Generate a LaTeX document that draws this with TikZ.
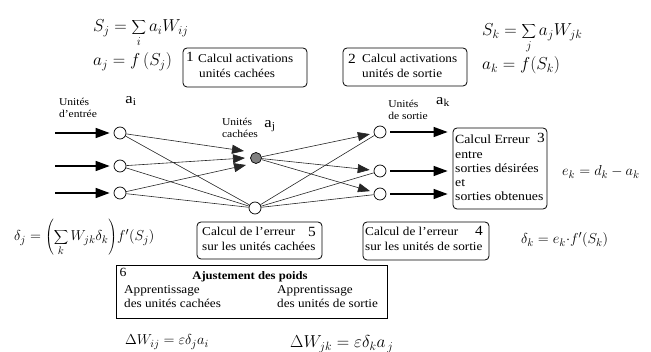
\documentclass[tikz,border=0pt]{standalone}
\usepackage{fontspec}
\setmainfont[FakeStretch=1.1]{Liberation Serif}
\usetikzlibrary{arrows.meta}
\begin{document}
\begin{tikzpicture}[x=1pt,y=-1pt,
  unit/.style={circle,draw,line width=0.7pt,minimum size=12pt,inner sep=0pt,fill=white},
  hid/.style={circle,draw,line width=0.7pt,minimum size=11pt,inner sep=0pt,fill=black!50},
  rbox/.style={draw,rounded corners=4pt,line width=0.8pt},
  sbox/.style={draw,line width=0.9pt},
  btxt/.style={font=\fontsize{12}{14.5}\selectfont,align=left,inner sep=0pt,anchor=north west},
  num/.style={font=\fontsize{14}{14}\selectfont,inner sep=0pt},
  lbl/.style={font=\fontsize{10.5}{12.5}\selectfont,align=left,inner sep=0pt},
  act/.style={font=\fontsize{15}{15}\selectfont,inner sep=0pt},
  eq/.style={font=\fontsize{15}{17}\selectfont,inner sep=0pt,anchor=base west},
  big/.style={line width=1.4pt,-{Triangle[length=14pt,width=10pt]}},
  thin/.style={line width=0.6pt,black!85},
  tarr/.style={line width=0.6pt,black!85,-{Triangle[length=12pt,width=9pt]}}
]
\useasboundingbox (0,0) rectangle (651,352);

% equations
\node[eq,font=\fontsize{18}{20}\selectfont] (eqSj) at (93,32) {$\displaystyle S_j=\sum_i a_iW_{ij}$};
\node[eq,font=\fontsize{18}{20}\selectfont] (eqaj) at (93,66) {$a_j=f\left(S_j\right)$};
\node[eq,font=\fontsize{16.5}{18}\selectfont] (eqSk) at (482,36) {$\displaystyle S_k=\sum_j a_jW_{jk}$};
\node[eq,font=\fontsize{17}{18}\selectfont] (eqak) at (482,70) {$a_k=f(S_k)$};
\node[eq] (eqek) at (562,176) {$e_k=d_k-a_k$};
\node[eq] (eqdj) at (14,241) {$\displaystyle \delta_j=\left(\sum_k W_{jk}\delta_k\right)\!f'\!\left(S_j\right)$};
\node[eq] (eqdk) at (521,244) {$\delta_k=e_k{\cdot}f'\!\left(S_k\right)$};
\node[eq] (eqwij) at (125,345) {$\Delta W_{ij}=\varepsilon\delta_j a_i$};
\node[eq,font=\fontsize{17}{18}\selectfont] (eqwjk) at (290,348) {$\Delta W_{jk}=\varepsilon\delta_k a_{\,j}$};

% box 1
\node[rbox,minimum width=124pt,minimum height=39pt] (b1) at (245,67.5) {};
\node[num] (n1) at (190,57) {1};
\node[btxt] (t1) at (198,54) {Calcul activations\\\hspace*{1pt}unités cachées};
% box 2
\node[rbox,minimum width=124pt,minimum height=38pt] (b2) at (405,67) {};
\node[num] (n2) at (352,59) {2};
\node[btxt] (t2) at (362,54) {Calcul activations\\unités de sortie};

% units
\node[unit] (i1) at (120,133) {};
\node[unit] (i2) at (120,166) {};
\node[unit] (i3) at (120,193) {};
\node[hid] (j) at (256,158) {};
\node[unit] (h) at (255,208) {};
\node[unit] (k1) at (380,132) {};
\node[unit] (k2) at (380,171) {};
\node[unit] (k3) at (380,194) {};

% labels
\node[lbl] (lin) at (78,108) {Unités\\d'entrée};
\node[act] (ai) at (131,101) {a\textsubscript{i}};
\node[lbl] (lhid) at (240,128) {Unités\\cachées};
\node[act] (aj) at (270,126) {a\textsubscript{j}};
\node[lbl] (lout) at (408,110) {Unités\\de sortie};
\node[act] (ak) at (443,102) {a\textsubscript{k}};

% input arrows
\coordinate (s1) at (55,133);
\coordinate (s2) at (55,166);
\coordinate (s3) at (55,193);
\draw[big] (s1) -- ([xshift=-4pt]i1.west);
\draw[big] (s2) -- ([xshift=-4pt]i2.west);
\draw[big] (s3) -- ([xshift=-4pt]i3.west);

% arrows into j
\coordinate (e1) at (244,151);
\coordinate (e2) at (245,158);
\coordinate (e3) at (246,165);
\draw[tarr] (i1) -- (e1);
\draw[tarr] (i2) -- (e2);
\draw[tarr] (i3) -- (e3);
% lines into h
\draw[thin] (i1) -- (h);
\draw[thin] (i2) -- (h);
\draw[thin] (i3) -- (h);

% arrows from j to outputs
\draw[tarr,shorten >=4pt] (j) -- (k1);
\draw[tarr,shorten >=4pt] (j) -- (k2);
\draw[tarr,shorten >=4pt] (j) -- (k3);
\draw[thin] (h) -- (k1);
\draw[thin] (h) -- (k2);
\draw[thin] (h) -- (k3);

% box 3
\node[rbox,minimum width=94pt,minimum height=81pt] (b3) at (500,168.5) {};
\node[num] (n3) at (541,138) {3};
\node[btxt,font=\fontsize{12.5}{14.2}\selectfont] (t3) at (455,135) {Calcul Erreur\\entre\\sorties désirées\\et\\sorties obtenues};

% output arrows
\draw[big] ([xshift=4pt]k1.east) -- ([xshift=-5pt]b3.west |- k1);
\draw[big] ([xshift=4pt]k2.east) -- ([xshift=-5pt]b3.west |- k2);
\draw[big] ([xshift=4pt]k3.east) -- ([xshift=-5pt]b3.west |- k3);

% box 5
\node[rbox,minimum width=125pt,minimum height=37pt] (b5) at (259.5,240.5) {};
\node[num] (n5) at (312,232) {5};
\node[btxt] (t5) at (202,227) {Calcul de l'erreur\\sur les unités cachées};
% box 4
\node[rbox,minimum width=126pt,minimum height=38pt] (b4) at (426,241) {};
\node[num] (n4) at (479,231) {4};
\node[btxt] (t4) at (365,227) {Calcul de l'erreur\\sur les unités de sortie};

% box 6
\node[sbox,minimum width=271pt,minimum height=53pt] (b6) at (251.5,291.5) {};
\node[num,font=\fontsize{12.5}{12.5}\selectfont] (n6) at (123,272) {6};
\node[inner sep=0pt,font=\fontsize{11.5}{13}\selectfont\bfseries] (t6) at (250,277) {Ajustement des poids};
\node[btxt] (t6a) at (124,285) {Apprentissage\\des unités cachées};
\node[btxt] (t6b) at (277,285) {Apprentissage\\des unités de sortie};
\end{tikzpicture}
\end{document}
